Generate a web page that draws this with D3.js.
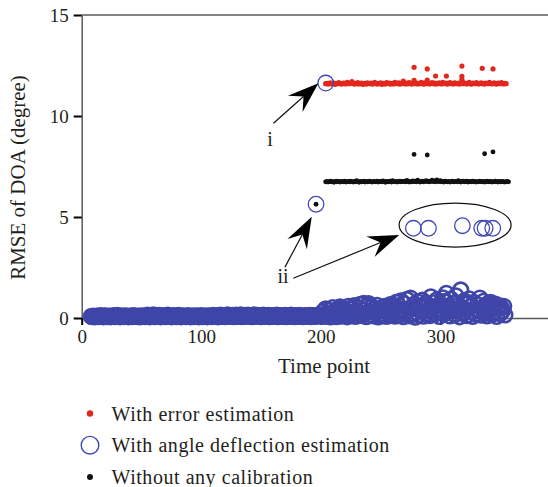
<!DOCTYPE html>
<html>
<head>
<meta charset="utf-8">
<script src="https://cdn.jsdelivr.net/npm/d3@7"></script>
<style>
  html, body { margin: 0; padding: 0; background: #fff; }
  svg { display: block; }
  text { font-family: "Liberation Serif", "DejaVu Serif", serif; fill: #231f20; }
</style>
</head>
<body>
<svg id="chart" width="548" height="487"></svg>
<script>
// ---- Data -------------------------------------------------------------
const xTicks = [0, 100, 200, 300];
const yTicks = [0, 5, 10, 15];

// With angle deflection estimation: consecutive time points from 8 to 200
const angleStart = 8;
const angleEarly = [
  0.08,0.07,0.09,0.06,0.08,0.1,0.07,0.09,0.12,0.08,0.06,0.09,0.11,0.07,0.08,0.1,0.06,0.09,0.08,0.12,
  0.07,0.09,0.13,0.08,0.06,0.1,0.09,0.07,0.11,0.08,0.09,0.06,0.1,0.08,0.07,0.12,0.09,0.08,0.1,0.07,
  0.09,0.06,0.11,0.08,0.1,0.07,0.09,0.14,0.08,0.06,0.1,0.09,0.15,0.07,0.08,0.11,0.09,0.13,0.06,0.1,
  0.08,0.12,0.07,0.09,0.14,0.08,0.1,0.06,0.09,0.12,0.08,0.07,0.1,0.13,0.09,0.06,0.11,0.08,0.1,0.07,
  0.09,0.12,0.08,0.06,0.1,0.09,0.07,0.11,0.08,0.1,0.06,0.09,0.12,0.07,0.08,0.1,0.09,0.06,0.11,0.08,
  0.1,0.07,0.13,0.09,0.08,0.11,0.06,0.1,0.14,0.08,0.09,0.12,0.07,0.1,0.15,0.08,0.11,0.09,0.13,0.07,
  0.1,0.14,0.08,0.12,0.09,0.15,0.07,0.11,0.13,0.08,0.1,0.14,0.09,0.12,0.07,0.11,0.15,0.08,0.1,0.13,
  0.09,0.12,0.07,0.1,0.14,0.08,0.11,0.09,0.13,0.07,0.1,0.12,0.08,0.11,0.09,0.14,0.07,0.1,0.12,0.08,
  0.11,0.09,0.13,0.07,0.1,0.12,0.08,0.14,0.09,0.11,0.07,0.12,0.1,0.08,0.13,0.09,0.11,0.07,0.1,0.12,
  0.08,0.11,0.09,0.13,0.07,0.1,0.12,0.08,0.11,0.09,0.14,0.1,0.12
];
// With angle deflection estimation: time points 201 to 354
const angleLateStart = 201;
const angleLate = [
  0.15,0.32,0.08,0.45,0.21,0.1,0.38,0.05,0.27,0.52,0.12,0.34,0.07,0.41,0.19,0.55,0.09,0.3,0.47,0.14,
  0.36,0.06,0.58,0.22,0.11,0.43,0.29,0.62,0.08,0.35,0.18,0.5,0.67,0.13,0.4,0.73,0.24,0.07,0.6,0.71,
  0.32,0.15,0.55,0.1,0.44,0.26,0.63,0.05,0.38,0.2,0.5,0.12,0.58,0.33,0.08,0.47,0.23,0.66,0.14,0.4,
  0.55,0.09,0.78,0.3,0.62,0.17,0.85,0.43,0.07,0.7,0.25,0.92,0.36,0.11,0.99,0.52,0.2,0.68,0.04,0.46,
  0.8,0.15,0.6,0.33,0.88,0.09,0.5,0.72,0.22,0.63,0.12,1.05,0.4,0.75,0.18,0.56,0.9,0.3,0.08,0.66,
  0.44,1.0,0.2,0.82,1.22,0.35,0.6,0.1,0.93,0.48,0.73,0.16,1.1,0.38,0.64,0.06,1.39,0.52,0.27,0.85,
  0.42,0.12,0.7,0.95,0.3,0.58,0.08,0.78,0.45,0.2,0.66,0.36,0.99,0.14,0.52,0.83,0.25,0.6,0.1,0.72,
  0.4,0.77,0.18,0.55,0.3,0.69,0.08,0.47,0.62,0.22,0.5,0.35,0.58,0.15
];
// Isolated angle-deflection points [time, value]
const angleMarked = [[204.1, 11.63], [196, 5.63]];
// Points gathered inside the ellipse [time, value]
const angleGrouped = [[277.4, 4.44], [290, 4.44], [318.4, 4.57], [334.6, 4.44], [337.4, 4.44], [343.8, 4.44]];

// With error estimation: time points 204 to 355
const errorStart = 204;
const errorMain = [
  11.6,11.62,11.58,11.61,11.64,11.59,11.6,11.63,11.57,11.61,11.6,11.65,11.62,11.58,11.6,11.63,11.61,11.59,11.66,
  11.62,11.6,11.64,11.7,11.61,11.58,11.62,11.6,11.65,11.59,11.61,11.63,11.57,11.6,11.62,11.58,11.64,11.61,11.6,
  11.63,11.59,11.6,11.66,11.62,11.58,11.61,11.6,11.64,11.57,11.62,11.6,11.59,11.65,11.61,11.63,11.58,11.6,11.62,
  11.59,11.66,11.61,11.6,11.64,11.58,11.62,11.6,11.73,11.61,11.59,11.63,11.6,11.65,11.62,11.58,11.61,11.76,11.6,
  11.63,11.59,11.62,11.6,11.66,11.61,11.58,11.64,11.6,11.78,11.62,11.59,11.61,11.65,11.6,11.63,11.58,11.62,11.6,
  11.64,11.61,11.59,11.66,11.62,11.6,11.63,11.58,11.61,11.65,11.6,11.62,11.59,11.64,11.61,11.6,11.63,11.58,11.62,
  11.8,11.6,11.64,11.61,11.59,11.62,11.66,11.6,11.58,11.63,11.61,11.6,11.65,11.62,11.59,11.61,11.64,11.6,11.62,
  11.58,11.63,11.61,11.6,11.66,11.62,11.59,11.61,11.64,11.6,11.58,11.63,11.62,11.6,11.65,11.61,11.59,11.62,11.6
];
const errorOutliers = [[278, 12.41], [289, 12.33], [318, 12.47], [335, 12.36], [344, 12.33],
                       [296, 11.98], [305, 11.98], [318, 11.96]];

// Without any calibration: time points 204 to 357
const rawStart = 204;
const rawMain = [
  6.74,6.76,6.73,6.75,6.77,6.74,6.75,6.72,6.76,6.74,6.78,6.75,6.73,6.76,6.74,6.75,6.77,6.73,6.75,6.76,6.74,6.78,
  6.75,6.73,6.76,6.74,6.8,6.75,6.72,6.76,6.74,6.75,6.77,6.73,6.76,6.74,6.75,6.78,6.74,6.73,6.76,6.75,6.74,6.77,
  6.73,6.75,6.76,6.74,6.79,6.75,6.72,6.76,6.74,6.75,6.77,6.73,6.8,6.75,6.74,6.76,6.73,6.75,6.78,6.74,6.76,6.75,
  6.77,6.74,6.81,6.75,6.73,6.76,6.74,6.79,6.75,6.77,6.74,6.82,6.76,6.73,6.75,6.78,6.74,6.76,6.8,6.75,6.77,6.74,
  6.76,6.83,6.75,6.79,6.74,6.84,6.77,6.75,6.8,6.74,6.76,6.73,6.78,6.75,6.74,6.76,6.73,6.75,6.77,6.74,6.75,6.76,
  6.74,6.8,6.75,6.73,6.76,6.78,6.74,6.75,6.77,6.73,6.76,6.74,6.75,6.78,6.74,6.76,6.73,6.75,6.74,6.77,6.75,6.74,
  6.76,6.73,6.75,6.77,6.74,6.75,6.76,6.73,6.75,6.74,6.77,6.75,6.73,6.76,6.74,6.75,6.76,6.74,6.73,6.75,6.76,6.74
];
const rawOutliers = [[278, 8.10], [289, 8.07], [337, 8.13], [344, 8.22], [196, 5.63]];

const legendItems = [
  { label: "With error estimation", kind: "error" },
  { label: "With angle deflection estimation", kind: "angle" },
  { label: "Without any calibration", kind: "raw" }
];

// ---- Styles -----------------------------------------------------------
const RED = "#e2271d";
const BLUE = "#4148b4";
const BLUE_DENSE = "#3f46a8";
const BLACK = "#111111";
const AXIS = "#5a5a5a";

// ---- Layout -----------------------------------------------------------
const svg = d3.select("#chart");
const plot = { left: 81.7, right: 548, top: 15, bottom: 318 };

const x = d3.scaleLinear().domain([0, 390]).range([plot.left, plot.right]);
const y = d3.scaleLinear().domain([0, 15]).range([plot.bottom, plot.top]);

const toPairs = (start, vals) => vals.map((v, i) => [start + i, v]);
const angleAll = toPairs(angleStart, angleEarly).concat(toPairs(angleLateStart, angleLate));
const errorAll = toPairs(errorStart, errorMain).concat(errorOutliers);
const rawAll = toPairs(rawStart, rawMain).concat(rawOutliers);

// ---- Axes -------------------------------------------------------------
// top frame line
svg.append("line").attr("x1", plot.left).attr("x2", plot.right)
  .attr("y1", plot.top).attr("y2", plot.top).attr("stroke", AXIS).attr("stroke-width", 1.5);

const xAxis = svg.append("g").attr("transform", `translate(0,${plot.bottom})`)
  .call(d3.axisBottom(x).tickValues(xTicks).tickSize(7).tickPadding(5).tickSizeOuter(0));
const yAxis = svg.append("g").attr("transform", `translate(${plot.left},0)`)
  .call(d3.axisLeft(y).tickValues(yTicks).tickSize(8).tickPadding(5).tickSizeOuter(0));

[xAxis, yAxis].forEach(g => {
  g.select(".domain").attr("stroke", AXIS).attr("stroke-width", 1.5);
  g.selectAll(".tick line").attr("stroke", "#000").attr("stroke-width", 2);
  g.selectAll(".tick text").attr("font-size", 19)
    .style("font-family", '"Liberation Serif", serif').attr("fill", "#231f20");
});

svg.append("text").attr("x", 324).attr("y", 373)
  .attr("text-anchor", "middle").attr("font-size", 21).text("Time point");

svg.append("text")
  .attr("transform", `translate(25,177.5) rotate(-90)`)
  .attr("text-anchor", "middle").attr("font-size", 21).text("RMSE of DOA (degree)");

// ---- Series -----------------------------------------------------------
const marks = svg.append("g");

marks.append("g").selectAll("circle").data(errorAll).join("circle")
  .attr("cx", d => x(d[0])).attr("cy", d => y(d[1])).attr("r", 2.6).attr("fill", RED);

marks.append("g").selectAll("circle").data(rawAll).join("circle")
  .attr("cx", d => x(d[0])).attr("cy", d => y(d[1])).attr("r", 2.4).attr("fill", BLACK);

marks.append("g").selectAll("circle").data(angleAll).join("circle")
  .attr("cx", d => x(d[0])).attr("cy", d => y(d[1])).attr("r", 7.3)
  .attr("fill", "none").attr("stroke", BLUE_DENSE).attr("stroke-width", 2.6);

marks.append("g").selectAll("circle").data(angleMarked.concat(angleGrouped)).join("circle")
  .attr("cx", d => x(d[0])).attr("cy", d => y(d[1])).attr("r", 7.8)
  .attr("fill", "none").attr("stroke", BLUE).attr("stroke-width", 1.3);

// ---- Annotations ------------------------------------------------------
const notes = svg.append("g");

notes.append("ellipse")
  .attr("cx", x(312.3)).attr("cy", y(4.6)).attr("rx", 56).attr("ry", 22)
  .attr("fill", "none").attr("stroke", "#111").attr("stroke-width", 1.2);

function arrow(from, to) {
  const x0 = x(from[0]), y0 = y(from[1]), x1 = x(to[0]), y1 = y(to[1]);
  const ang = Math.atan2(y1 - y0, x1 - x0);
  const L = 31, W = 11, N = 20;
  const ux = Math.cos(ang), uy = Math.sin(ang), px = -uy, py = ux;
  const bx = x1 - ux * L, by = y1 - uy * L;
  const nx = x1 - ux * N, ny = y1 - uy * N;
  notes.append("line").attr("x1", x0).attr("y1", y0).attr("x2", nx).attr("y2", ny)
    .attr("stroke", "#111").attr("stroke-width", 1.2);
  notes.append("path")
    .attr("d", `M${x1},${y1}L${bx + px * W},${by + py * W}L${nx},${ny}L${bx - px * W},${by - py * W}Z`)
    .attr("fill", "#000");
}
arrow([160.4, 9.64], [198, 11.62]);
arrow([170, 2.52], [192.4, 5.01]);
arrow([177, 1.97], [265.5, 4.11]);

notes.append("text").attr("x", x(157.5)).attr("y", y(8.51))
  .attr("text-anchor", "middle").attr("font-size", 20).text("i");
notes.append("text").attr("x", x(168.4)).attr("y", y(1.73))
  .attr("text-anchor", "middle").attr("font-size", 20).text("ii");

// ---- Legend -----------------------------------------------------------
const legend = svg.append("g");
const rows = legend.selectAll("g").data(legendItems).join("g")
  .attr("transform", (d, i) => `translate(90,${413.5 + i * 31.7})`);
rows.each(function (d) {
  const g = d3.select(this);
  if (d.kind === "error") g.append("circle").attr("r", 3.2).attr("fill", RED);
  if (d.kind === "raw") g.append("circle").attr("r", 3).attr("fill", BLACK);
  if (d.kind === "angle") g.append("circle").attr("r", 8.8).attr("fill", "none")
    .attr("stroke", BLUE).attr("stroke-width", 1.4);
});
rows.append("text").attr("x", 21.5).attr("y", 7).attr("font-size", 20)
  .attr("letter-spacing", 0.55).text(d => d.label);
</script>
</body>
</html>
